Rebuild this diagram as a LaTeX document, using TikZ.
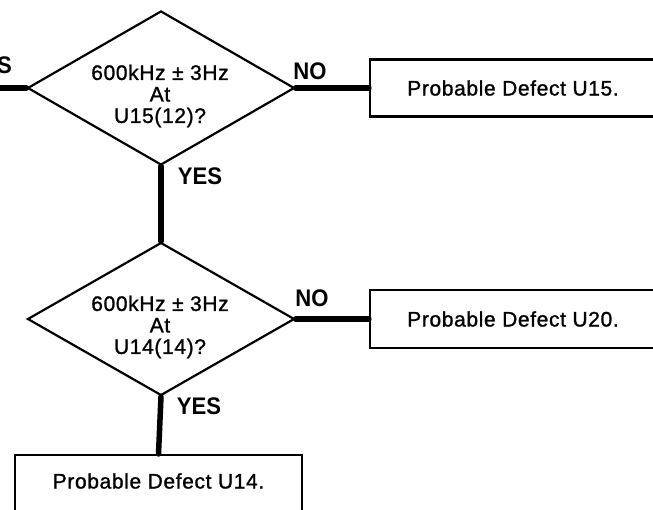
\documentclass[tikz,border=0pt]{standalone}
\usepackage{fontspec}
\setmainfont{Liberation Sans}[LetterSpace=3, FakeBold=1.2]
\newfontfamily\lblfont{Liberation Sans}[FakeStretch=0.92]
\usetikzlibrary{shapes.geometric}
\begin{document}
\begin{tikzpicture}[x=1pt,y=-1pt,
  dia/.style={draw, line width=2.2pt, shape=diamond, minimum width=267pt, minimum height=154pt, inner sep=0pt, aspect=1.73},
  qtext/.style={align=center, font=\fontsize{21}{21.5}\selectfont, inner sep=0pt},
  boxst/.style={draw, line width=2.2pt, font=\fontsize{21}{21}\selectfont, inner sep=0pt},
  btext/.style={font=\fontsize{21}{21}\selectfont, inner sep=0pt},
  lbl/.style={font=\lblfont\bfseries\fontsize{24}{24}\selectfont, inner sep=0pt},
  conn/.style={line width=5.5pt, line cap=round}]
\useasboundingbox (0,0) rectangle (653,510);
\clip (0,0) rectangle (653,510);
% decisions
\node[dia] (d1) at (161,88) {};
\node[qtext] (q1) at (160,96) {600kHz ± 3Hz\\At\\U15(12)?};
\node[dia, minimum height=153pt] (d2) at (161,319) {};
\node[qtext] (q2) at (160,327) {600kHz ± 3Hz\\At\\U14(14)?};
% result boxes
\node[boxst, minimum width=286pt, minimum height=57pt] (b1) at (513,88) {Probable Defect U15.};
\node[boxst, minimum width=286pt, minimum height=58pt] (b2) at (513,319) {Probable Defect U20.};
\node[boxst, minimum width=287pt, minimum height=80pt, anchor=north] (b3) at (158.5,454) {};
\node[btext] (b3t) at (158.5,481) {Probable Defect U14.};
% connectors
\coordinate (in0) at (-10,88);
\draw[conn] (in0) -- (d1.west);
\draw[conn] (d1.east) -- (b1.west);
\draw[conn] (d1.south) -- (d2.north);
\draw[conn] (d2.east) -- (b2.west);
\draw[conn] (d2.south) -- (b3.north);
% labels
\node[lbl, anchor=east] (yes0) at (12,65) {YES};
\node[lbl] (no1) at (310,71) {NO};
\node[lbl] (yes1) at (200,176) {YES};
\node[lbl] (no2) at (312,298) {NO};
\node[lbl] (yes2) at (199,406) {YES};
\end{tikzpicture}
\end{document}
